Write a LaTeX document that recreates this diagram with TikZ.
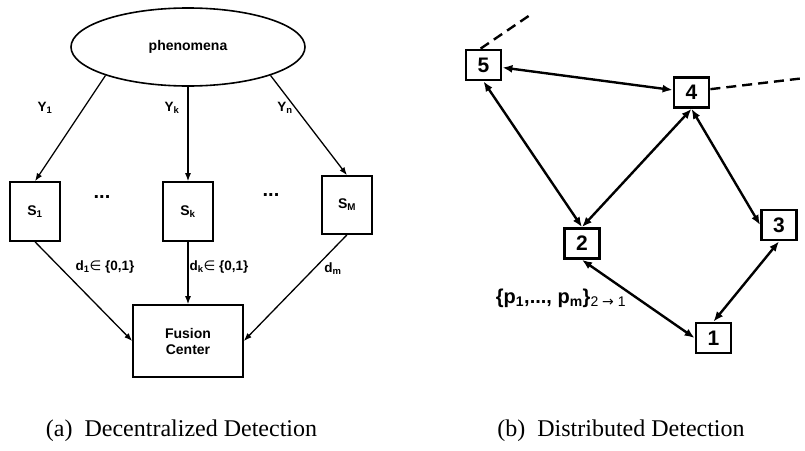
\documentclass[tikz,border=0pt]{standalone}
\usepackage{fontspec}
\setmainfont{Liberation Serif}
\setsansfont{Liberation Sans}
\newfontfamily\symfont{DejaVu Sans}
\usetikzlibrary{arrows.meta}
\usetikzlibrary{shapes.geometric}
\tikzset{
    obs/.style = {line width=1.3pt,-{Latex[length=8pt,width=6pt]}},
    sensor/.style = {draw,line width=1.6pt,inner sep=0,font=\sffamily\bfseries\fontsize{14}{16}\selectfont},
    lbl/.style = {inner sep=0,font=\sffamily\bfseries\fontsize{13.5}{15}\selectfont}
}
\tikzset{
    peer/.style = {draw,line width=2.8pt,minimum width=35pt,minimum height=30pt,inner sep=0,
        font=\sffamily\bfseries\fontsize{21}{23}\selectfont},
    link/.style = {line width=2.4pt,{Latex[length=10pt,width=8pt]}-{Latex[length=10pt,width=8pt]}},
    away/.style = {line width=2.4pt,dash pattern=on 10pt off 6pt},
    caption/.style = {inner sep=0,font=\fontsize{24}{26}\selectfont}
}
\begin{document}
\begin{tikzpicture}[x=1pt,y=-1pt]
        \useasboundingbox (0,0) rectangle (805,450);
        % Decentralized
        \node[draw,ellipse,line width=1.6pt,minimum width=234pt,minimum height=78pt,inner sep=0,
            font=\sffamily\bfseries\fontsize{14}{16}\selectfont] (phen) at (188,47) {phenomena};
        \node[sensor,minimum width=50pt,minimum height=59pt] (s1) at (35,211.5) {S\textsubscript{1}};
        \node[sensor,minimum width=50pt,minimum height=59pt] (sk) at (188,211.5) {S\textsubscript{k}};
        \node[sensor,minimum width=50pt,minimum height=58pt] (sm) at (347,205) {S\textsubscript{M}};
        \node[sensor,minimum width=110pt,minimum height=72pt,align=center] (fc) at (188,341)
            {Fusion\\Center};
        \node[lbl,font=\sffamily\bfseries\fontsize{20}{22}\selectfont] (dots1) at (102,197) {...};
        \node[lbl,font=\sffamily\bfseries\fontsize{20}{22}\selectfont] (dots2) at (271,195) {...};
        % Observations
        \draw[obs] (phen.199.5) -- (s1.north);
        \draw[obs] (phen.south) -- (sk.north);
        \draw[obs] (phen.-19.5) -- (sm.north);
        \node[lbl] (y1) at (45,108) {Y\textsubscript{1}};
        \node[lbl] (yk) at (172,108) {Y\textsubscript{k}};
        \node[lbl] (yn) at (285,108) {Y\textsubscript{n}};
        % Decisions
        \draw[obs] (s1.south) -- (fc.west);
        \draw[obs] (sk.south) -- (fc.north);
        \draw[obs] (sm.south) -- (fc.east);
        \node[lbl] (d1) at (105,267) {d\textsubscript{1}{\symfont\mdseries ∈} \{0,1\}};
        \node[lbl] (dk) at (219,267) {d\textsubscript{k}{\symfont\mdseries ∈} \{0,1\}};
        \node[lbl] (dm) at (333,269) {d\textsubscript{m}};
        % Distributed
        \node[peer] (n5) at (483.5,65) {5};
        \node[peer] (n4) at (691.5,92.5) {4};
        \node[peer] (n2) at (582,243.5) {2};
        \node[peer] (n3) at (779,225) {3};
        \node[peer] (n1) at (713.5,338) {1};
        \coordinate (out5) at (533,13);
        \coordinate (out4) at (805,78);
        \foreach \src/\dest in {n5/n4,n5.south/n2.north,n2.north/n4.south,n4.south/n3.west,
            n2.south/n1.west,n3.south/n1.north}
            \draw[link] (\src) to (\dest);
        \draw[away] (n5.100) -- (out5);
        \draw[away] (n4.10) -- (out4);
        \node[lbl,font=\sffamily\bfseries\fontsize{20}{22}\selectfont] (msg) at (561,298)
            {\{p\textsubscript{1},..., p\textsubscript{m}\}\textsubscript{\mdseries 2 {\symfont →} 1}};
        % Captions
        \node[caption] (capa) at (181.5,431) {(a)\enspace Decentralized Detection};
        \node[caption] (capb) at (621,431) {(b)\enspace Distributed Detection};
\end{tikzpicture}
\end{document}
